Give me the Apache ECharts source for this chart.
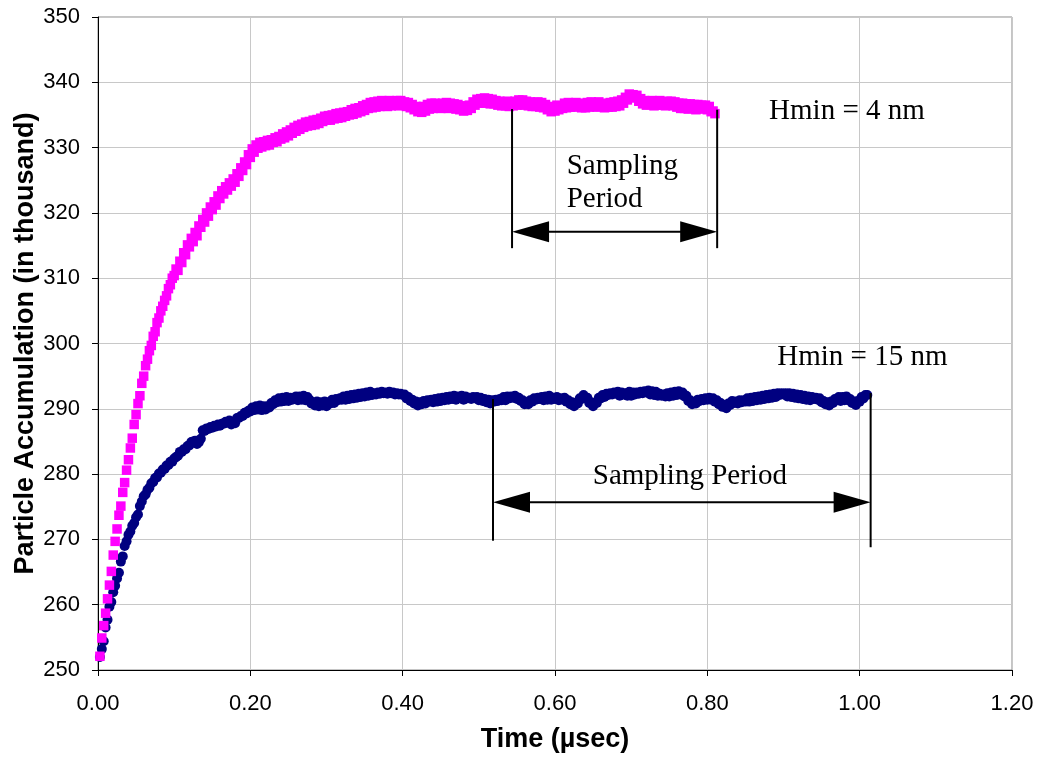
<!DOCTYPE html>
<html>
<head>
<meta charset="utf-8">
<script src="https://cdn.jsdelivr.net/npm/echarts@6/dist/echarts.min.js"></script>
<style>
  html, body { margin: 0; padding: 0; background: #ffffff; }
  #chart { width: 1040px; height: 759px; }
</style>
</head>
<body>
<div id="chart"></div>
<script>
// Samples are recorded every 0.0025 µs, starting at the first step.
const timeStep = 0.0025;

// Particle accumulation (thousands) for Hmin = 4 nm
const hmin4Values = [
  252.1, 254.9, 256.8, 258.7, 260.9, 263.0, 265.1, 267.6, 269.7, 271.6,
  273.7, 275.1, 277.2, 278.7, 280.6, 282.2, 284.0, 285.5, 287.6, 289.1,
  290.8, 292.0, 293.9, 295.0, 296.6, 297.6, 298.9, 299.7, 301.1, 301.8,
  303.2, 303.9, 305.0, 305.7, 306.6, 307.3, 308.4, 309.0, 310.0, 310.4,
  311.4, 311.2, 312.6, 312.4, 313.9, 313.6, 315.1, 314.8, 316.1, 315.6,
  317.0, 316.5, 318.0, 317.8, 319.0, 318.6, 320.0, 319.5, 320.9, 320.5,
  321.7, 321.2, 322.6, 322.2, 323.4, 322.9, 324.0, 323.5, 324.6, 324.1,
  325.2, 324.7, 326.0, 325.6, 326.9, 326.5, 327.8, 327.4, 328.9, 328.5,
  329.8, 329.3, 330.4, 329.9, 330.8, 330.1, 330.9, 330.3, 331.1, 330.4,
  331.2, 330.8, 331.5, 330.9, 331.7, 331.3, 332.1, 331.5, 332.4, 331.8,
  332.7, 332.2, 333.1, 332.5, 333.4, 332.8, 333.6, 333.1, 333.9, 333.3,
  334.0, 333.4, 334.2, 333.5, 334.3, 333.7, 334.5, 334.0, 334.8, 334.2,
  334.9, 334.2, 335.0, 334.4, 335.2, 334.5, 335.3, 334.6, 335.4, 334.8,
  335.5, 335.0, 335.8, 335.1, 336.0, 335.3, 336.1, 335.5, 336.4, 335.7,
  336.6, 336.0, 336.9, 336.1, 337.0, 336.2, 337.1, 336.3, 337.2, 336.4,
  337.1, 336.3, 337.2, 336.4, 337.1, 336.5, 337.2, 336.4, 337.2, 336.5,
  337.0, 336.3, 336.9, 336.1, 336.6, 335.8, 336.3, 335.5, 336.2, 335.4,
  336.3, 335.6, 336.6, 335.9, 336.8, 336.0, 336.8, 336.1, 336.7, 336.0,
  336.8, 336.1, 336.9, 336.0, 336.8, 336.1, 336.7, 335.9, 336.6, 335.8,
  336.4, 335.6, 336.3, 335.7, 336.5, 336.0, 337.0, 336.5, 337.4, 336.8,
  337.5, 336.8, 337.6, 336.9, 337.5, 336.7, 337.4, 336.7, 337.2, 336.5,
  337.1, 336.4, 337.0, 336.4, 337.1, 336.3, 337.0, 336.4, 337.1, 336.5,
  337.3, 336.6, 337.3, 336.5, 337.1, 336.4, 337.0, 336.3, 336.9, 336.3,
  337.0, 336.2, 336.9, 336.1, 336.6, 335.8, 336.3, 335.5, 336.2, 335.6,
  336.5, 335.8, 336.4, 336.0, 336.8, 336.1, 336.9, 336.2, 336.8, 336.2,
  336.9, 336.3, 336.8, 336.1, 336.7, 336.1, 336.9, 336.2, 337.0, 336.3,
  336.8, 336.2, 337.0, 336.3, 336.8, 336.1, 336.7, 336.2, 336.9, 336.2,
  337.0, 336.3, 337.1, 336.4, 337.3, 336.8, 337.7, 337.3, 338.2, 337.7,
  338.1, 337.6, 338.0, 337.1, 337.5, 336.7, 337.2, 336.5, 337.1, 336.6,
  337.2, 336.4, 337.1, 336.5, 337.2, 336.5, 337.0, 336.4, 337.1, 336.6,
  337.1, 336.4, 337.0, 336.2, 336.8, 336.0, 336.8, 336.0, 336.7, 335.9,
  336.7, 336.0, 336.6, 335.8, 336.6, 336.0, 336.5, 335.9, 336.5, 335.8,
  336.3, 335.5, 335.6, 335.2
];

// Particle accumulation (thousands) for Hmin = 15 nm
const hmin15Values = [
  252.0, 253.2, 254.4, 256.5, 257.7, 259.7, 260.4, 261.9, 262.9, 264.0,
  264.9, 266.6, 267.4, 269.0, 269.7, 270.7, 271.2, 272.1, 272.5, 273.4,
  273.8, 275.1, 275.8, 276.6, 276.9, 277.6, 277.9, 278.6, 278.8, 279.4,
  279.5, 280.1, 280.2, 280.7, 280.8, 281.3, 281.4, 281.9, 281.9, 282.4,
  282.6, 282.8, 283.4, 283.4, 283.8, 283.8, 284.3, 284.4, 284.9, 285.0,
  285.1, 284.6, 284.9, 285.4, 286.7, 286.6, 287.0, 286.9, 287.2, 287.1,
  287.4, 287.3, 287.6, 287.4, 287.7, 287.7, 288.0, 287.9, 288.2, 287.6,
  287.9, 287.8, 288.6, 288.6, 288.9, 288.9, 289.4, 289.3, 289.7, 289.6,
  290.2, 289.8, 290.4, 289.9, 290.5, 289.8, 290.4, 289.9, 290.4, 290.2,
  290.9, 290.7, 291.3, 291.0, 291.6, 291.1, 291.7, 291.2, 291.8, 291.2,
  291.7, 291.4, 291.6, 291.9, 291.3, 291.9, 291.4, 292.0, 291.3, 291.8,
  291.4, 290.8, 291.0, 290.5, 291.1, 290.4, 291.0, 290.5, 291.1, 290.4,
  291.0, 290.8, 291.4, 290.9, 291.5, 291.3, 291.6, 291.4, 291.9, 291.4,
  292.0, 291.5, 292.1, 291.6, 292.2, 291.7, 292.3, 291.8, 292.4, 291.9,
  292.5, 292.0, 292.6, 292.1, 292.4, 292.2, 292.5, 292.3, 292.6, 292.4,
  292.5, 292.3, 292.6, 292.4, 292.5, 292.2, 292.4, 292.2, 292.3, 292.1,
  292.2, 291.6, 291.8, 291.2, 291.4, 290.8, 291.1, 290.5, 291.0, 290.7,
  291.2, 290.8, 291.3, 291.1, 291.4, 291.0, 291.5, 291.1, 291.6, 291.2,
  291.7, 291.3, 291.8, 291.4, 291.9, 291.5, 292.0, 291.4, 291.9, 291.7,
  292.0, 291.4, 291.9, 291.6, 291.7, 291.5, 291.8, 291.6, 291.8, 291.3,
  291.7, 291.2, 291.5, 291.0, 291.4, 290.8, 291.3, 291.1, 291.4, 291.2,
  291.5, 291.3, 291.8, 291.3, 291.9, 291.6, 291.9, 291.7, 292.0, 291.5,
  291.7, 291.2, 291.3, 290.7, 291.0, 290.7, 291.3, 291.1, 291.6, 291.4,
  291.7, 291.5, 291.8, 291.3, 291.9, 291.4, 292.0, 291.4, 291.7, 291.5,
  291.8, 291.3, 291.6, 291.4, 291.7, 291.1, 291.3, 290.7, 291.0, 290.4,
  290.9, 290.8, 291.6, 291.5, 292.1, 291.6, 291.7, 290.9, 291.0, 290.4,
  290.9, 290.9, 291.7, 291.6, 292.1, 291.8, 292.3, 292.1, 292.4, 292.2,
  292.5, 292.3, 292.6, 292.0, 292.5, 292.2, 292.4, 292.0, 292.6, 292.0,
  292.5, 292.2, 292.5, 292.3, 292.6, 292.4, 292.7, 292.5, 292.8, 292.2,
  292.7, 292.1, 292.6, 292.0, 292.3, 292.0, 292.2, 291.9, 292.4, 291.9,
  292.5, 292.0, 292.6, 292.1, 292.7, 292.2, 292.5, 291.9, 292.0, 291.2,
  291.3, 290.7, 291.0, 290.8, 291.4, 291.2, 291.5, 291.3, 291.6, 291.4,
  291.7, 291.4, 291.6, 291.1, 291.3, 290.7, 290.9, 290.3, 290.6, 290.1,
  290.8, 290.6, 291.2, 290.9, 291.1, 290.8, 291.3, 291.0, 291.3, 291.1,
  291.6, 291.1, 291.7, 291.2, 291.8, 291.3, 291.9, 291.4, 292.0, 291.5,
  292.1, 291.6, 292.2, 291.7, 292.3, 291.8, 292.4, 292.1, 292.4, 292.2,
  292.4, 291.9, 292.4, 291.8, 292.3, 291.7, 292.2, 291.6, 292.1, 291.5,
  292.0, 291.4, 291.9, 291.3, 291.8, 291.5, 291.7, 291.4, 291.6, 291.0,
  291.2, 290.7, 291.0, 290.5, 291.1, 290.9, 291.5, 291.3, 291.8, 291.2,
  291.8, 291.3, 291.9, 291.3, 291.5, 290.9, 291.1, 290.6, 291.2, 291.1,
  291.8, 291.6, 292.1, 292.1
];

// Sampling-period brackets: one entry per run (4 nm, then 15 nm)
const bracketStart = [0.5436, 0.5186];      // µs
const bracketEnd = [0.8129, 1.0144];        // µs
const bracketArrowLevel = [317.1, 275.7];   // thousands
const bracketTopStart = [335.9, 291.5];
const bracketTopEnd = [335.8, 292.4];
const bracketBottomStart = [314.6, 269.8];
const bracketBottomEnd = [314.6, 268.8];

// Text notes placed in data coordinates
const noteText = ['Hmin = 4 nm', 'Hmin = 15 nm', 'Sampling\nPeriod', 'Sampling Period'];
const noteTime = [0.9833, 1.0036, 0.6154, 0.777];
const noteLevel = [335.5, 297.8, 324.66, 279.6];
const noteAlign = ['center', 'center', 'left', 'center'];

const toPoints = vals => vals.map((v, i) => [Number((timeStep * (i + 1)).toFixed(4)), v]);

const bracketRows = bracketStart.map((s, i) => [
  s, bracketEnd[i], bracketArrowLevel[i],
  bracketTopStart[i], bracketTopEnd[i], bracketBottomStart[i], bracketBottomEnd[i]
]);
const noteRows = noteTime.map((t, i) => [t, noteLevel[i]]);

const sansFont = '"Liberation Sans", Arial, Helvetica, sans-serif';
const serifFont = '"Liberation Serif", "Times New Roman", serif';

const chart = echarts.init(document.getElementById('chart'), null, { renderer: 'canvas' });

chart.setOption({
  animation: false,
  backgroundColor: '#ffffff',
  grid: {
    left: 98, right: 28, top: 17, bottom: 89,
    containLabel: false,
    outerBoundsMode: 'none',
    show: true,
    borderColor: '#8a8a8a',
    borderWidth: 1,
    backgroundColor: 'transparent'
  },
  xAxis: {
    type: 'value',
    min: 0, max: 1.2, interval: 0.2,
    name: 'Time (\u00b5sec)',
    nameLocation: 'middle',
    nameGap: 56,
    nameMoveOverlap: false,
    nameTextStyle: { fontFamily: sansFont, fontSize: 27, fontWeight: 'bold', color: '#000' },
    axisLine: { show: true, onZero: false, lineStyle: { color: '#000', width: 1 } },
    axisTick: { show: true, inside: false, length: 6, lineStyle: { color: '#000', width: 1 } },
    axisLabel: {
      show: true, margin: 23, color: '#000', fontFamily: sansFont, fontSize: 22,
      formatter: v => v.toFixed(2)
    },
    splitLine: { show: true, lineStyle: { color: '#c8c8c8', width: 1 } }
  },
  yAxis: {
    type: 'value',
    min: 250, max: 350, interval: 10,
    name: 'Particle Accumulation (in thousand)',
    nameLocation: 'middle',
    nameGap: 59,
    nameMoveOverlap: false,
    nameRotate: 90,
    nameTextStyle: { fontFamily: sansFont, fontSize: 27, fontWeight: 'bold', color: '#000' },
    axisLine: { show: true, onZero: false, lineStyle: { color: '#000', width: 1 } },
    axisTick: { show: true, inside: false, length: 6, lineStyle: { color: '#000', width: 1 } },
    axisLabel: { show: true, margin: 18, color: '#000', fontFamily: sansFont, fontSize: 22 },
    splitLine: { show: true, lineStyle: { color: '#c8c8c8', width: 1 } }
  },
  series: [
    {
      name: 'Hmin = 15 nm',
      type: 'scatter',
      data: toPoints(hmin15Values),
      symbol: 'circle',
      symbolSize: 10,
      itemStyle: { color: '#000080', opacity: 1 },
      silent: true,
      z: 2
    },
    {
      name: 'Hmin = 4 nm',
      type: 'scatter',
      data: toPoints(hmin4Values),
      symbol: 'rect',
      symbolSize: 9.5,
      itemStyle: { color: '#ff00ff', opacity: 1 },
      silent: true,
      z: 3
    },
    {
      name: 'brackets',
      type: 'custom',
      silent: true,
      z: 4,
      data: bracketRows,
      encode: { x: [0, 1], y: [2, 3, 4, 5, 6] },
      renderItem: (params, api) => {
        const x1 = api.value(0), x2 = api.value(1);
        const a1 = api.coord([x1, api.value(2)]);
        const a2 = api.coord([x2, api.value(2)]);
        const t1 = api.coord([x1, api.value(3)]);
        const t2 = api.coord([x2, api.value(4)]);
        const b1 = api.coord([x1, api.value(5)]);
        const b2 = api.coord([x2, api.value(6)]);
        const headLen = 37, headHalf = 10.5;
        const stroke = { stroke: '#000', lineWidth: 2 };
        return {
          type: 'group',
          children: [
            { type: 'line', shape: { x1: t1[0], y1: t1[1], x2: b1[0], y2: b1[1] }, style: stroke },
            { type: 'line', shape: { x1: t2[0], y1: t2[1], x2: b2[0], y2: b2[1] }, style: stroke },
            { type: 'line', shape: { x1: a1[0] + headLen - 2, y1: a1[1], x2: a2[0] - headLen + 2, y2: a2[1] }, style: stroke },
            { type: 'polygon', shape: { points: [[a1[0], a1[1]], [a1[0] + headLen, a1[1] - headHalf], [a1[0] + headLen, a1[1] + headHalf]] }, style: { fill: '#000' } },
            { type: 'polygon', shape: { points: [[a2[0], a2[1]], [a2[0] - headLen, a2[1] - headHalf], [a2[0] - headLen, a2[1] + headHalf]] }, style: { fill: '#000' } }
          ]
        };
      }
    },
    {
      name: 'notes',
      type: 'custom',
      silent: true,
      z: 4,
      data: noteRows,
      encode: { x: 0, y: 1 },
      renderItem: (params, api) => {
        const p = api.coord([api.value(0), api.value(1)]);
        return {
          type: 'text',
          x: p[0],
          y: p[1],
          style: {
            text: noteText[params.dataIndex],
            fill: '#000',
            font: '29px ' + serifFont,
            align: noteAlign[params.dataIndex],
            verticalAlign: 'middle',
            lineHeight: 33
          }
        };
      }
    }
  ]
});
</script>
</body>
</html>
